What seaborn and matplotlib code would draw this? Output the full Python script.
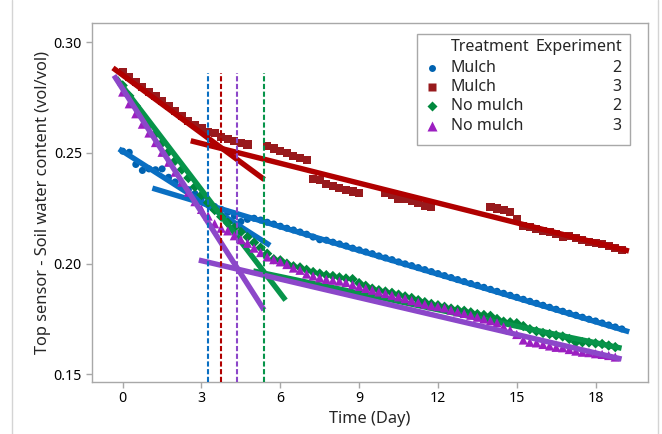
import numpy as np
import pandas as pd
import matplotlib
matplotlib.use("Agg")
import matplotlib.pyplot as plt
import seaborn as sns
from matplotlib.patches import Rectangle
from matplotlib.lines import Line2D

nan = np.nan

# measurement times (days), shared by all four series
day = [0.0, 0.25, 0.5, 0.75, 1.0, 1.25, 1.5, 1.75,
       2.0, 2.25, 2.5, 2.75, 3.0, 3.25, 3.5, 3.75,
       4.0, 4.25, 4.5, 4.75, 5.0, 5.25, 5.5, 5.75,
       6.0, 6.25, 6.5, 6.75, 7.0, 7.25, 7.5, 7.75,
       8.0, 8.25, 8.5, 8.75, 9.0, 9.25, 9.5, 9.75,
       10.0, 10.25, 10.5, 10.75, 11.0, 11.25, 11.5, 11.75,
       12.0, 12.25, 12.5, 12.75, 13.0, 13.25, 13.5, 13.75,
       14.0, 14.25, 14.5, 14.75, 15.0, 15.25, 15.5, 15.75,
       16.0, 16.25, 16.5, 16.75, 17.0, 17.25, 17.5, 17.75,
       18.0, 18.25, 18.5, 18.75, 19.0]

mulch_2 = [0.2508, 0.2503, 0.2448, 0.2421, 0.2428, 0.2424, 0.2428, 0.2390,
           0.2369, 0.2352, 0.2334, 0.2316, 0.2298, 0.2280, 0.2258, 0.2245,
           0.2232, 0.2215, 0.2190, 0.2200, 0.2205, 0.2197, 0.2187, 0.2179,
           0.2169, 0.2160, 0.2152, 0.2143, 0.2133, 0.2120, 0.2108, 0.2106,
           0.2097, 0.2089, 0.2080, 0.2070, 0.2062, 0.2053, 0.2045, 0.2035,
           0.2026, 0.2018, 0.2008, 0.1999, 0.1991, 0.1982, 0.1973, 0.1964,
           0.1955, 0.1946, 0.1937, 0.1928, 0.1919, 0.1910, 0.1902, 0.1893,
           0.1884, 0.1875, 0.1866, 0.1857, 0.1848, 0.1839, 0.1830, 0.1821,
           0.1812, 0.1803, 0.1794, 0.1785, 0.1776, 0.1767, 0.1758, 0.1749,
           0.1741, 0.1732, 0.1723, 0.1714, 0.1705]

mulch_3 = [0.2866, 0.2844, 0.2821, 0.2799, 0.2777, 0.2756, 0.2733, 0.2711,
           0.2690, 0.2668, 0.2646, 0.2627, 0.2613, 0.2596, 0.2590, 0.2572,
           0.2565, 0.2555, 0.2545, 0.2538, nan, nan, 0.2531, 0.2520,
           0.2509, 0.2500, 0.2487, 0.2476, 0.2468, 0.2384, 0.2376, 0.2361,
           0.2351, 0.2342, 0.2333, 0.2326, 0.2319, nan, nan, nan,
           0.2318, 0.2309, 0.2292, 0.2290, 0.2283, 0.2273, 0.2259, 0.2257,
           nan, nan, nan, nan, nan, nan, nan, nan,
           0.2257, 0.2249, 0.2241, 0.2234, 0.2200, 0.2170, 0.2164, 0.2156,
           0.2149, 0.2142, 0.2134, 0.2122, 0.2125, 0.2114, 0.2106, 0.2096,
           0.2093, 0.2088, 0.2079, 0.2070, 0.2063]

nomulch_2 = [0.2805, 0.2758, 0.2712, 0.2668, 0.2625, 0.2585, 0.2545, 0.2505,
             0.2465, 0.2425, 0.2387, 0.2347, 0.2310, 0.2275, 0.2242, 0.2212,
             0.2185, 0.2162, 0.2143, 0.2120, 0.2095, 0.2072, 0.2045, 0.2020,
             0.2015, 0.2000, 0.1988, 0.1983, 0.1972, 0.1962, 0.1955, 0.1948,
             0.1944, 0.1938, 0.1933, 0.1930, 0.1912, 0.1900, 0.1887, 0.1880,
             0.1874, 0.1868, 0.1860, 0.1852, 0.1845, 0.1835, 0.1826, 0.1818,
             0.1812, 0.1805, 0.1797, 0.1792, 0.1787, 0.1780, 0.1772, 0.1768,
             0.1764, 0.1750, 0.1738, 0.1735, 0.1731, 0.1718, 0.1704, 0.1695,
             0.1687, 0.1682, 0.1676, 0.1671, 0.1660, 0.1645, 0.1645, 0.1644,
             0.1640, 0.1637, 0.1630, 0.1623, nan]

nomulch_3 = [0.2775, 0.2722, 0.2677, 0.2630, 0.2590, 0.2547, 0.2503, 0.2458,
             0.2413, 0.2368, 0.2323, 0.2280, 0.2245, 0.2215, 0.2180, 0.2160,
             0.2148, 0.2126, 0.2108, 0.2092, 0.2070, 0.2050, 0.2030, 0.2018,
             0.2008, 0.1996, 0.1980, 0.1970, 0.1953, 0.1944, 0.1936, 0.1929,
             0.1925, 0.1921, 0.1915, 0.1905, 0.1897, 0.1888, 0.1880, 0.1872,
             0.1865, 0.1857, 0.1850, 0.1842, 0.1833, 0.1825, 0.1817, 0.1810,
             0.1806, 0.1800, 0.1790, 0.1782, 0.1775, 0.1767, 0.1758, 0.1750,
             0.1742, 0.1733, 0.1715, 0.1700, 0.1680, 0.1655, 0.1645, 0.1642,
             0.1635, 0.1628, 0.1622, 0.1620, 0.1612, 0.1605, 0.1600, 0.1598,
             0.1593, 0.1590, 0.1585, 0.1578, nan]

treatment = ["Mulch", "Mulch", "No mulch", "No mulch"]
experiment = [2, 3, 2, 3]
series_values = [mulch_2, mulch_3, nomulch_2, nomulch_3]

# bilinear fits: intercept, slope and day range of each segment
fit1_intercept = [0.25074, 0.28516, 0.28001, 0.27888]
fit1_slope = [-0.00758, -0.00875, -0.01557, -0.01855]
fit1_range = [(-0.14, 5.61), (-0.37, 5.39), (-0.25, 6.20), (-0.33, 5.38)]
fit2_intercept = [0.23814, 0.26323, 0.20908, 0.20966]
fit2_slope = [-0.003576, -0.002986, -0.00249, -0.002778]
fit2_range = [(1.13, 19.28), (2.59, 19.27), (4.97, 18.99), (2.90, 18.99)]
breakpoint_day = [3.23, 3.74, 5.39, 4.35]

marker_colors = ["#0062B0", "#981A1D", "#00883D", "#9C1FC1"]
line_colors = ["#0A6FC2", "#B00000", "#07944A", "#8C47C9"]
markers = ["o", "s", "D", "^"]
marker_sizes = [26, 34, 28, 44]

frames = []
for t, e, vals in zip(treatment, experiment, series_values):
    frames.append(pd.DataFrame({"day": day, "swc": vals,
                                "group": f"{t} {e}"}))
df = pd.concat(frames).dropna()
groups = [f"{t} {e}" for t, e in zip(treatment, experiment)]

sns.set_style("white")
plt.rcParams["font.family"] = ["Noto Sans", "DejaVu Sans"]
plt.rcParams["font.weight"] = "semibold"
plt.rcParams["axes.labelweight"] = "semibold"

fig = plt.figure(figsize=(6.62, 4.34), dpi=100)
ax = fig.add_axes([0.1385, 0.1205, 0.8405, 0.8272])

y_lo, y_hi = 0.14667, 0.30883

for i, g in enumerate(groups):
    sub = df[df["group"] == g]
    sns.scatterplot(data=sub, x="day", y="swc", marker=markers[i],
                    color=marker_colors[i], s=marker_sizes[i],
                    edgecolor="none", ax=ax, legend=False, zorder=2 + i)
    for b, m, (x0, x1) in [(fit1_intercept[i], fit1_slope[i], fit1_range[i]),
                           (fit2_intercept[i], fit2_slope[i], fit2_range[i])]:
        xs = np.array([x0, x1])
        ax.plot(xs, b + m * xs, color=line_colors[i], lw=3.9,
                solid_capstyle="butt", zorder=2.5 + i)

for i in range(4):
    ax.vlines(breakpoint_day[i], y_lo, 0.2862, colors=line_colors[i],
              linestyles=(0, (2.5, 1.2)), lw=1.5, zorder=7)

ax.set_xlim(-1.18, 20.0)
ax.set_ylim(y_lo, y_hi)
ax.set_xticks([0, 3, 6, 9, 12, 15, 18])
ax.set_yticks([0.15, 0.20, 0.25, 0.30])
ax.set_yticklabels(["0.15", "0.20", "0.25", "0.30"])
ax.tick_params(bottom=True, left=True, direction="out", length=4,
               width=1, color="#A8A8A8", labelsize=10.2, pad=3,
               labelcolor="black")
for sp in ax.spines.values():
    sp.set_color("#A8A8A8")
    sp.set_linewidth(1)

ax.set_xlabel("Time (Day)", fontsize=11.8, labelpad=3)
ax.set_ylabel("Top sensor - Soil water content (vol/vol)", fontsize=11.8,
              labelpad=2)

# legend table
ax.add_patch(Rectangle((0.5842, 0.6593), 0.3835, 0.3092,
                       transform=ax.transAxes, facecolor="white",
                       edgecolor="#A8A8A8", lw=1, zorder=10))
ax.text(0.6453, 0.9331, "Treatment", transform=ax.transAxes, ha="left",
        va="center", fontsize=11.5, zorder=11)
ax.text(0.9527, 0.9331, "Experiment", transform=ax.transAxes, ha="right",
        va="center", fontsize=11.5, zorder=11)
row_y = [0.8730, 0.8201, 0.7680, 0.7131]
leg_ms = [5, 5.5, 5, 6.5]
for i in range(4):
    ax.plot([0.6123], [row_y[i]], marker=markers[i], color=marker_colors[i],
            ms=leg_ms[i], mec="none", transform=ax.transAxes, zorder=11)
    ax.text(0.6453, row_y[i], treatment[i], transform=ax.transAxes,
            ha="left", va="center", fontsize=11.5, zorder=11)
    ax.text(0.9527, row_y[i], str(experiment[i]), transform=ax.transAxes,
            ha="right", va="center", fontsize=11.5, zorder=11)

for xf in [11.5 / 662, 657.5 / 662]:
    fig.add_artist(Line2D([xf, xf], [0, 1], color="#D4D4D4", lw=1,
                          transform=fig.transFigure))

fig.savefig("out.png", dpi=100)
